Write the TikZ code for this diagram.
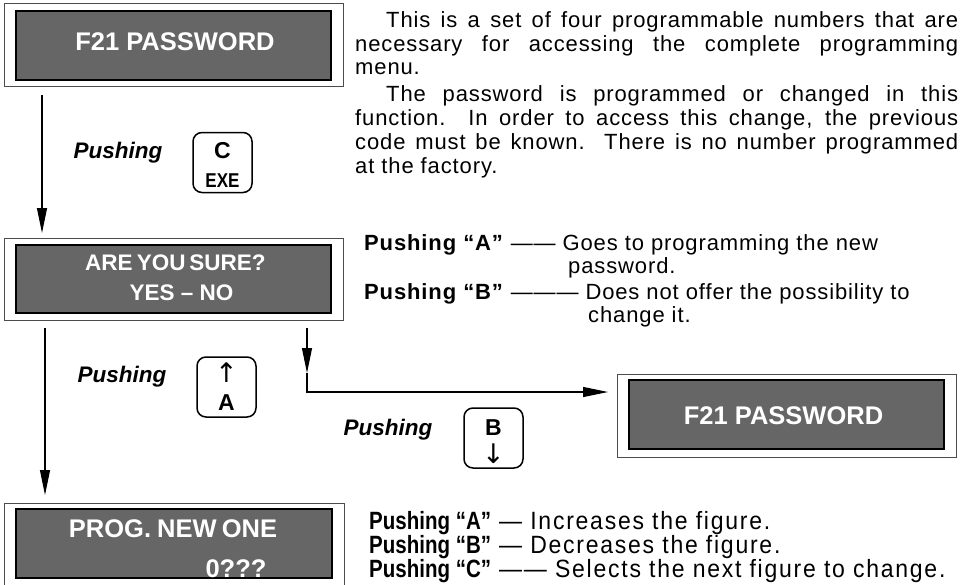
\documentclass[tikz,border=0pt]{standalone}
\usepackage{fontspec}
\usepackage{graphicx}
\setmainfont{Liberation Sans}
\newfontfamily\spfont[LetterSpace=4]{Liberation Sans}
\newfontfamily\botfont[FakeStretch=0.92,LetterSpace=7]{Liberation Sans}
\newfontfamily\botbold[FakeStretch=0.82]{Liberation Sans}
\newfontfamily\symfont{DejaVu Sans}
\usetikzlibrary{arrows.meta}
\definecolor{lcd}{HTML}{666666}
\begin{document}
\begin{tikzpicture}[x=1pt,y=-1pt,
 outerbox/.style={draw=black!70,line width=0.9pt,fill=white,inner sep=0pt,outer sep=0pt},
 lcdbox/.style={draw=black,line width=2.4pt,fill=lcd,inner sep=0pt,outer sep=0pt},
 lcdtext/.style={text=white,inner sep=0pt,anchor=base,font=\bfseries\fontsize{25.5}{28}\selectfont},
 lcdsmall/.style={lcdtext,font=\bfseries\fontsize{22.5}{26}\selectfont},
 lcdmid/.style={lcdtext,font=\bfseries\fontsize{25.5}{28}\selectfont},
 keybox/.style={draw=black,line width=1.5pt,rounded corners=9pt,minimum width=59pt,minimum height=60pt,inner sep=0pt},
 keytext/.style={inner sep=0pt,anchor=base,font=\bfseries\fontsize{23}{26}\selectfont},
 keysym/.style={inner sep=0pt,font=\symfont\fontsize{27}{28}\selectfont},
 push/.style={inner sep=0pt,anchor=base,font=\bfseries\itshape\fontsize{22.5}{26}\selectfont},
 body/.style={inner sep=0pt,anchor=base west,font=\spfont\fontsize{22}{26}\selectfont},
 bottom/.style={inner sep=0pt,anchor=base west,font=\botfont\fontsize{25}{27}\selectfont},
 flow/.style={line width=1.1pt,-{Triangle[length=25pt,width=10pt]}}
]
\useasboundingbox (0,0) rectangle (968,584);

% display boxes
\node[outerbox,minimum width=339pt,minimum height=83pt] (b1o) at (173.5,44.5) {};
\node[lcdbox,minimum width=315pt,minimum height=69pt] (b1) at (173.5,45.5) {};
\node[lcdtext] (b1t) at (175,50) {F21 PASSWORD};

\node[outerbox,minimum width=339pt,minimum height=82pt] (b2o) at (173.5,279) {};
\node[lcdbox,minimum width=315pt,minimum height=68pt] (b2) at (173.5,279) {};
\node[lcdsmall] (b2t1) at (175.5,270) {ARE\hspace{-2pt} YOU\hspace{-2.5pt} SURE?};
\node[lcdsmall] (b2t2) at (181.5,300) {YES – NO};

\node[outerbox,minimum width=340pt,minimum height=83pt] (b3o) at (174,544.5) {};
\node[lcdbox,minimum width=316pt,minimum height=69pt] (b3) at (174,543.5) {};
\node[lcdmid] (b3t1) at (173,537) {PROG.\hspace{-1pt} NEW\hspace{-2pt} ONE};
\node[lcdmid] (b3t2) at (236,577) {0???};

\node[outerbox,minimum width=339pt,minimum height=83pt] (b4o) at (786.5,415.5) {};
\node[lcdbox,minimum width=315pt,minimum height=69pt] (b4) at (786.5,414.5) {};
\node[lcdtext] (b4t) at (783.5,424) {F21 PASSWORD};

% keys
\node[keybox] (kc) at (222.5,162.5) {};
\node[keytext] (kct) at (222.5,158) {C};
\node[keytext,font=\bfseries\fontsize{20}{22}\selectfont] (kce) at (222.5,187) {\scalebox{0.85}[1]{EXE}};

\node[keybox] (ka) at (226.5,387) {};
\node[keysym] (kaa) at (226.5,373) {↑};
\node[keytext] (kat) at (226.5,410) {A};

\node[keybox] (kb) at (493.5,438) {};
\node[keytext] (kbt) at (493.5,435) {B};
\node[keysym] (kba) at (493.5,454) {↓};

% pushing labels
\node[push] (p1) at (118,158) {Pushing};
\node[push] (p2) at (122,382) {Pushing};
\node[push] (p3) at (388,435) {Pushing};

% connectors
\coordinate (a1s) at (42,95);
\draw[flow,shorten >=5pt] (a1s) -- (a1s |- b2o.north);
\coordinate (a2s) at (45,328);
\draw[flow,shorten >=8pt] (a2s) -- (a2s |- b3o.north);
\coordinate (a3s) at (307,328);
\coordinate (a3m) at (307,373);
\coordinate (a3c) at (307,392);
\draw[flow] (a3s) -- (a3m);
\draw[flow,shorten >=9pt] (a3m) -- (a3c) -- (a3c -| b4o.west);

% description text
\node[body] (t1) at (386,27) {\makebox[572pt][s]{This is a set of four programmable numbers that are}};
\node[body] (t2) at (355,51) {\makebox[603pt][s]{necessary for accessing the complete programming}};
\node[body] (t3) at (355,74) {menu.};
\node[body] (t4) at (386,101) {\makebox[572pt][s]{The password is programmed or changed in this}};
\node[body] (t5) at (355,125) {\makebox[603pt][s]{function.\ \ In order to access this change, the previous}};
\node[body] (t6) at (355,149) {\makebox[603pt][s]{code must be known.\ \ There is no number programmed}};
\node[body] (t7) at (355,173) {at the factory.};

\node[body] (m1) at (364,250.5) {\textbf{Pushing “A”} —— Goes to programming the new};
\node[body] (m2) at (568,273.5) {password.};
\node[body] (m3) at (364,299.5) {\textbf{Pushing “B”} ——— Does not offer the possibility to};
\node[body] (m4) at (588,322.5) {change it.};

\node[bottom] (n1) at (369,529) {{\botbold\bfseries Pushing “A”} — Increases the figure.};
\node[bottom] (n2) at (369,553) {{\botbold\bfseries Pushing “B”} — Decreases the figure.};
\node[bottom] (n3) at (369,577) {{\botbold\bfseries Pushing “C”} —— Selects the next figure to change.};
\end{tikzpicture}
\end{document}
